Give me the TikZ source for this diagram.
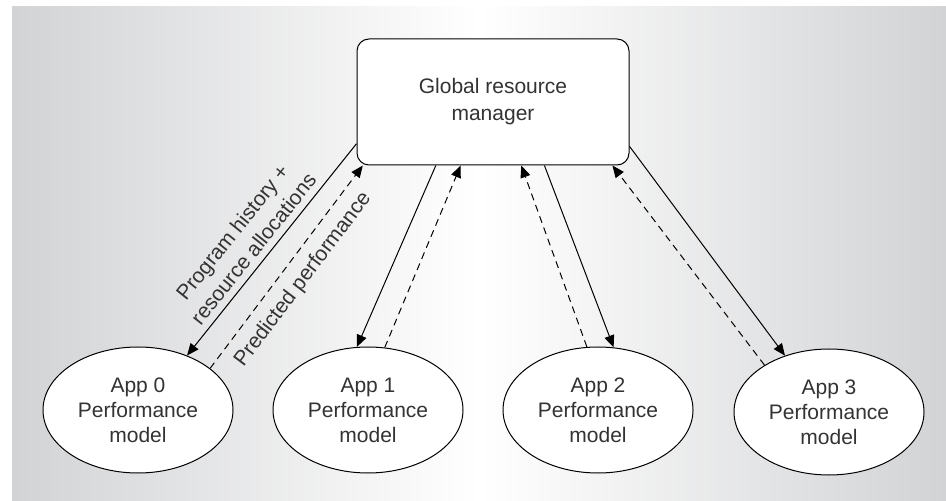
\documentclass[tikz,border=0pt]{standalone}
\usepackage{fontspec}
\setmainfont{Liberation Sans}
\usetikzlibrary{arrows.meta,shapes.geometric}
\definecolor{bggray}{HTML}{D2D3D5}
\definecolor{txtgray}{HTML}{333333}
\begin{document}
\begin{tikzpicture}[x=0.5pt,y=-0.5pt,
		font=\fontsize{10.5}{13.5}\selectfont, text=txtgray,
		manager/.style={draw, rounded corners=6pt, fill=white, line width=0.5pt,
			minimum width=136pt, minimum height=63pt, align=center},
		model/.style={draw, ellipse, fill=white, line width=0.5pt, inner sep=0pt,
			minimum width=95pt, minimum height=63pt, align=center,
			font=\fontsize{10.5}{12.5}\selectfont},
		request/.style={-{Triangle[length=6pt,width=5pt]}, line width=0.5pt},
		reply/.style={request, dash pattern=on 3.5pt off 2.5pt}]
		\useasboundingbox (0,0) rectangle (946,501);
		\shade[left color=bggray, right color=bggray, middle color=white] (12,7) rectangle (946,501);
		% manager and the four models
		\node[manager] (grm) at (493,102) {Global resource\\manager};
		\node[model] (app0) at (138,410) {App 0\\Performance\\model};
		\node[model] (app1) at (368,410) {App 1\\Performance\\model};
		\node[model] (app2) at (598,410) {App 2\\Performance\\model};
		\node[model] (app3) at (829,412) {App 3\\Performance\\model};
		% requests down, predictions up
		\draw[request] (grm.197.5) -- (app0.48) node[pos=0.54, sloped, above, align=center] {Program history +\\resource allocations};
		\draw[reply] (app0.30) -- (grm.206.7) node[midway, sloped, below=2pt] {Predicted performance};
		\draw[request] (grm.228.4) -- (app1.100);
		\draw[reply] (app1.75) -- (grm.243.8);
		\draw[reply] (app2.100) -- (grm.294.7);
		\draw[request] (grm.309.5) -- (app2.76);
		\draw[reply] (app3.144) -- (grm.332.7);
		\draw[request] (grm.342.5) -- (app3.128);
	\end{tikzpicture}
\end{document}
